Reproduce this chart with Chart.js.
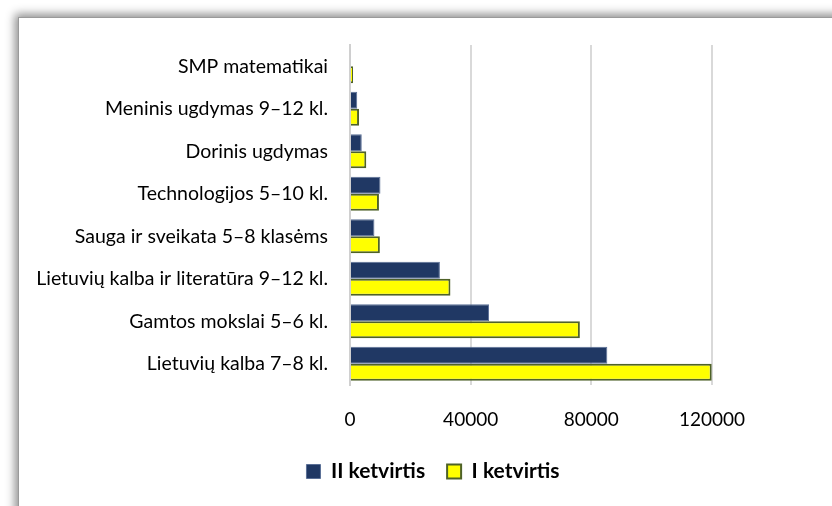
<!DOCTYPE html>
<html>
<head>
<meta charset="utf-8">
<script src="https://cdn.jsdelivr.net/npm/chart.js@4"></script>
<style>
  html, body { margin: 0; padding: 0; background: #fff; }
  body { width: 832px; height: 506px; position: relative; overflow: hidden; }
  .frame {
    position: absolute; left: 18px; top: 17px; width: 840px; height: 520px;
    background: #fff; border-left: 1px solid #9a9a9a; border-top: 1px solid #9a9a9a;
    box-shadow: -3px -3px 9px rgba(0, 0, 0, 0.45);
  }
  .wrap { position: absolute; left: 0; top: 0; width: 832px; height: 506px; }
</style>
</head>
<body>
<div class="frame"></div>
<div class="wrap"><canvas id="chart" width="832" height="506"></canvas></div>
<script>
// categories, top to bottom
const categories = [
    'SMP matematikai',
    'Meninis ugdymas 9–12 kl.',
    'Dorinis ugdymas',
    'Technologijos 5–10 kl.',
    'Sauga ir sveikata 5–8 klasėms',
    'Lietuvių kalba ir literatūra 9–12 kl.',
    'Gamtos mokslai 5–6 kl.',
    'Lietuvių kalba 7–8 kl.'
];
const quarter2 = [300, 2400, 3900, 10100, 8100, 29800, 46100, 85300];
const quarter1 = [1000, 3000, 5400, 9600, 9900, 33300, 76200, 119900];
const xTicks = [0, 40000, 80000, 120000];

const FONT = 'Lato, "Open Sans", sans-serif';

new Chart(document.getElementById('chart'), {
    type: 'bar',
    data: {
        labels: categories,
        datasets: [{
            label: 'II ketvirtis',
            data: quarter2,
            backgroundColor: '#203864',
            borderColor: '#5a6f96',
            borderWidth: 1,
            categoryPercentage: 0.8,
            barPercentage: 1.0
        }, {
            label: 'I ketvirtis',
            data: quarter1,
            backgroundColor: '#ffff00',
            borderColor: '#4f6228',
            borderWidth: 2,
            categoryPercentage: 0.8,
            barPercentage: 1.0
        }]
    },
    options: {
        indexAxis: 'y',
        responsive: false,
        animation: false,
        layout: { padding: { top: 45, left: 34, right: 0, bottom: 14 } },
        plugins: {
            tooltip: { enabled: false },
            legend: {
                position: 'bottom',
                labels: {
                    color: '#000',
                    font: { family: FONT, size: 21, weight: 'bold' },
                    boxWidth: 14,
                    boxHeight: 14,
                    padding: 22
                }
            }
        },
        scales: {
            x: {
                min: 0,
                max: 120000,
                afterBuildTicks: (scale) => { scale.ticks = xTicks.map(v => ({ value: v })); },
                afterFit: (scale) => { scale.height = 54; },
                grid: { color: '#d9d9d9', lineWidth: 2, drawTicks: false },
                border: { display: false },
                ticks: {
                    color: '#000',
                    padding: 23,
                    font: { family: FONT, size: 19 },
                    callback: (v) => String(v)
                }
            },
            y: {
                afterFit: (scale) => { scale.width = 316; },
                grid: { display: false, drawTicks: false },
                border: { display: true, color: '#d0d0d0', width: 2 },
                ticks: {
                    color: '#000',
                    padding: 22,
                    font: { family: FONT, size: 19.5 }
                }
            },
            // empty right-hand axis that only reserves the blank strip right of the plot
            side: {
                type: 'linear',
                position: 'right',
                afterFit: (scale) => { scale.width = 120; },
                grid: { display: false, drawTicks: false },
                border: { display: false },
                ticks: { display: false }
            }
        }
    }
});
</script>
</body>
</html>
